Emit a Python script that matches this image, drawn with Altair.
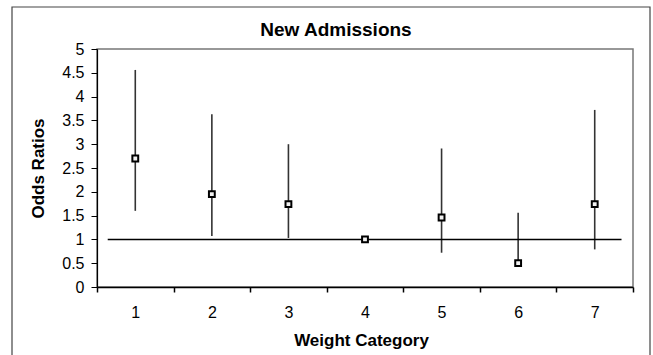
import altair as alt
import pandas as pd

# ---- data ----
categories = ["1", "2", "3", "4", "5", "6", "7"]
odds_ratio = [2.70, 1.95, 1.74, 1.00, 1.46, 0.50, 1.74]
ci_upper = [4.56, 3.63, 3.00, 1.00, 2.91, 1.56, 3.72]
ci_lower = [1.60, 1.07, 1.03, 1.00, 0.72, 0.48, 0.79]

y_ticks = [0, 0.5, 1, 1.5, 2, 2.5, 3, 3.5, 4, 4.5, 5]

# reference line at OR = 1, spanning (in category units) from/to
ref_value = [1.0]
ref_from = [0.64]
ref_to = [7.35]

df = pd.DataFrame({"cat": categories, "odds": odds_ratio,
                   "lower": ci_lower, "upper": ci_upper})
ref_df = pd.DataFrame({"y": ref_value, "x1": ref_from, "x2": ref_to})

FONT = "Liberation Sans"

yscale = alt.Scale(domain=[0, 5], nice=False, zero=True)
yaxis = alt.Axis(
    title="Odds Ratios", values=y_ticks, labelExpr="datum.value + ''",
    grid=False, tickSize=6, labelPadding=7, labelFontSize=16, labelColor="black",
    domainColor="black", domainWidth=1.2, tickColor="black", tickWidth=1,
    titleFontSize=17, titleFontWeight="bold", titleColor="black",
    titleBaseline="alphabetic", titleX=-54, titleY=119, titleAngle=-90,
)
xscale = alt.Scale(paddingInner=0, paddingOuter=0)
xaxis = alt.Axis(
    title="Weight Category", labelAngle=0, tickBand="extent", grid=False,
    tickSize=5, labelPadding=12, labelFontSize=16, labelColor="black",
    domainColor="black", domainWidth=1.5, tickColor="black", tickWidth=1.5,
    titleFontSize=17, titleFontWeight="bold", titleColor="black",
    titleBaseline="alphabetic", titleX=264, titleY=58,
)

base = alt.Chart(df)

bars = base.mark_rule(color="#333333", strokeWidth=1.6).encode(
    x=alt.X("cat:N", scale=xscale, axis=xaxis, sort=categories),
    y=alt.Y("lower:Q", scale=yscale, axis=yaxis),
    y2="upper:Q",
)

ref = alt.Chart(ref_df).mark_rule(color="black", strokeWidth=1.5).encode(
    x=alt.X("x1:Q", scale=alt.Scale(domain=[0.5, 7.5], nice=False, zero=False), axis=None),
    x2="x2:Q",
    y=alt.Y("y:Q", scale=yscale, axis=yaxis),
)

points = base.mark_square(size=34, filled=True, fill="#f2f2f2", stroke="black",
                          strokeWidth=2, opacity=1).encode(
    x=alt.X("cat:N", scale=xscale, axis=None, sort=categories),
    y=alt.Y("odds:Q", scale=yscale, axis=yaxis),
)

frame = alt.Chart(pd.DataFrame({"k": [0]})).mark_rect(
    fill=None, stroke="#444444", strokeWidth=1.2, clip=False
).encode(
    x=alt.value(-85), x2=alt.value(553), y=alt.value(-42), y2=alt.value(312)
)

chart = alt.layer(frame, bars, ref, points).resolve_scale(
    x="independent"
).properties(
    width=536, height=238,
    autosize=alt.AutoSizeParams(type="none"),
    padding={"left": 97, "top": 49, "right": 20, "bottom": 68},
    title=alt.TitleParams("New Admissions", fontSize=19, font=FONT, fontWeight="bold",
                          color="black", anchor="middle", dx=-29, offset=-29.5, dy=19,
                          baseline="alphabetic"),
).configure(font=FONT).configure_view(
    stroke="#777777", strokeWidth=1.5
)

chart.save("out.html", embed_options={"renderer": "svg", "actions": False})
